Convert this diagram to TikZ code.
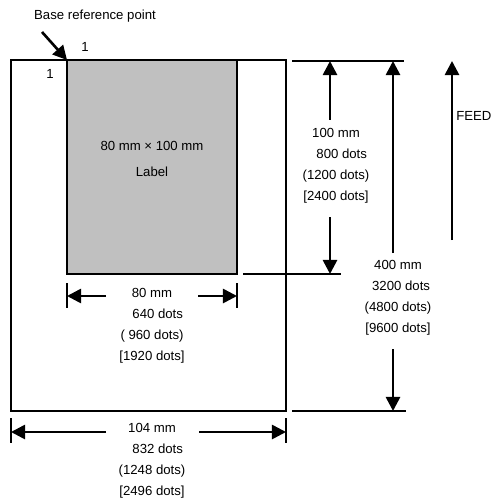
\documentclass[tikz,border=0pt]{standalone}
\usepackage{fontspec}
\setmainfont{Liberation Sans}
\usetikzlibrary{arrows.meta}
\definecolor{labelgray}{RGB}{192,192,192}

\begin{document}
\begin{tikzpicture}[x=0.02cm,y=-0.02cm]
      \useasboundingbox (0,0) rectangle (493,503);
      % paper and label
      \draw[line width=1.1pt] (11,60) rectangle (286,411);
      \draw[line width=1.1pt,fill=labelgray] (67,60) rectangle (237,274);
      \begin{scope}[every node/.style={inner sep=0pt,font=\fontsize{7.5}{11.9}\selectfont}]
        \node (base) at (95,16) {Base reference point};
        \node (1x) at (85,47) {1};
        \node (1y) at (50,74) {1};
        \node (size) at (152,146) {80 mm × 100 mm};
        \node (name) at (152,172) {Label};
        \node[anchor=west] (feed) at (456,116) {FEED};
        \node[align=center] (d100) at (336,166) {100 mm\\\hspace*{6.5pt}800 dots\\(1200 dots)\\{[2400 dots]}};
        \node[align=center] (d400) at (398,298) {400 mm\\\hspace*{3.5pt}3200 dots\\(4800 dots)\\{[9600 dots]}};
        \node[align=center] (d80) at (152,326) {80 mm\\\hspace*{6.5pt}640 dots\\( 960 dots)\\{[1920 dots]}};
        \node[align=center] (d104) at (152,461) {104 mm\\\hspace*{6.5pt}832 dots\\(1248 dots)\\{[2496 dots]}};
      \end{scope}
      % ends of the arrows
      \coordinate (basetip) at (67,60);
      \coordinate (basetail) at (42,32);
      \coordinate (t100a) at (330,120);
      \coordinate (h100a) at (330,61);
      \coordinate (t100b) at (330,217);
      \coordinate (h100b) at (330,274);
      \coordinate (t400a) at (393,253);
      \coordinate (h400a) at (393,61);
      \coordinate (t400b) at (393,349);
      \coordinate (h400b) at (393,411);
      \coordinate (tfeed) at (452,240);
      \coordinate (hfeed) at (452,61);
      \coordinate (t80a) at (106,296);
      \coordinate (h80a) at (67,296);
      \coordinate (t80b) at (198,296);
      \coordinate (h80b) at (237,296);
      \coordinate (t104a) at (106,432);
      \coordinate (h104a) at (11,432);
      \coordinate (t104b) at (199,432);
      \coordinate (h104b) at (286,432);
      % extension lines
      \begin{scope}[line width=1pt]
        \draw (292,61) -- (404,61);
        \draw (243,274) -- (341,274);
        \draw (292,411) -- (406,411);
        \draw (67,283) -- (67,308);
        \draw (237,283) -- (237,308);
        \draw (11,418) -- (11,443);
        \draw (286,418) -- (286,443);
      \end{scope}
      \begin{scope}[every edge/.style={draw,line width=1.5pt,-{Triangle[length=8pt,width=8pt]}}]
        \path (basetail) edge (basetip);
        \path (t100a) edge (h100a);
        \path (t100b) edge (h100b);
        \path (t400a) edge (h400a);
        \path (t400b) edge (h400b);
        \path (tfeed) edge (hfeed);
        \path (t80a) edge (h80a);
        \path (t80b) edge (h80b);
        \path (t104a) edge (h104a);
        \path (t104b) edge (h104b);
      \end{scope}
    \end{tikzpicture}
\end{document}
